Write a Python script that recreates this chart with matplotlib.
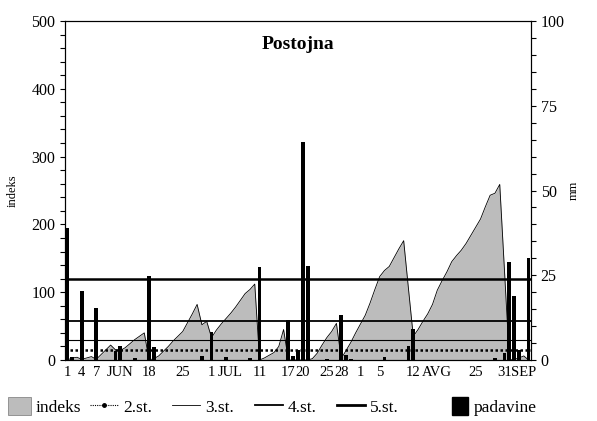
import numpy as np
import matplotlib.pyplot as plt
from matplotlib.lines import Line2D
from matplotlib.patches import Patch

plt.rcParams['font.family'] = ['Liberation Serif', 'DejaVu Serif']

# daily values, 1 Jun .. 5 Sep (97 days)
indeks = [0, 3, 4, 1, 3, 5, 1, 8, 15, 22,
          15, 14, 18, 24, 30, 35, 40, 0, 2, 6,
          13, 20, 28, 35, 42, 55, 68, 82, 52, 57,
          33, 44, 53, 61, 69, 78, 88, 98, 104, 112,
          0, 3, 7, 11, 20, 45, 0, 0, 0, 0,
          0, 2, 10, 22, 33, 42, 54, 2, 14, 26,
          40, 53, 66, 84, 104, 123, 132, 138, 151, 164,
          176, 105, 35, 45, 57, 68, 82, 103, 117, 130,
          145, 154, 162, 172, 184, 196, 208, 226, 243, 246,
          259, 130, 0, 1, 3, 6, 0]

padavine = [39, 0.8, 0, 20.5, 0, 0, 15.2, 0, 0, 0,
            2.8, 4.0, 0, 0, 0.5, 0, 0, 24.8, 3.8, 0,
            0, 0, 0, 0, 0, 0, 0, 0, 1.2, 0,
            8.2, 0, 0, 0.8, 0, 0, 0, 0, 0.6, 0,
            27.4, 0, 0, 0, 0, 0, 11.8, 1.2, 3.0, 64.4,
            27.8, 0, 0, 0, 0.4, 0, 0, 13.4, 1.6, 0.4,
            0, 0, 0, 0, 0, 0, 1.0, 0, 0, 0,
            0, 4.0, 9.2, 0, 0, 0, 0, 0, 0, 0,
            0, 0, 0, 0, 0, 0, 0, 0, 0, 0.5,
            0, 2.2, 29, 19, 3, 0, 30]

# alert stages (indeks)
stopnje = [15, 30, 58, 120]
stopnje_labels = ['2.st.', '3.st.', '4.st.', '5.st.']

tick_pos = [0, 3, 6, 11, 17, 24, 30, 34, 40, 46, 49, 54, 57, 61, 65, 72, 77, 85, 91, 95]
tick_lab = ['1', '4', '7', 'JUN', '18', '25', '1', 'JUL', '11', '17', '20',
            '25', '28', '1', '5', '12', 'AVG', '25', '31', 'SEP']

x = np.arange(len(indeks))

fig = plt.figure(figsize=(5.97, 4.21), dpi=100)
ax = fig.add_axes([0.1089, 0.1449, 0.7805, 0.8052])

ax.fill_between(x, indeks, color='#bcbcbc', lw=0, zorder=1)
ax.plot(x, indeks, color='k', lw=0.6, zorder=2)

styles = [dict(ls=(0, (1, 1)), lw=1.8), dict(ls='-', lw=0.8),
          dict(ls='-', lw=1.3), dict(ls='-', lw=1.8)]
for v, st in zip(stopnje, styles):
    ax.axhline(v, color='k', zorder=3, **st)

ax.set_xlim(-0.5, len(indeks) - 0.5)
ax.set_ylim(0, 500)
ax.set_yticks(np.arange(0, 501, 100))
ax.set_yticks(np.arange(0, 501, 20), minor=True)
ax.set_xticks(tick_pos)
ax.set_xticklabels(tick_lab)
ax.tick_params(axis='x', length=0, pad=4, labelsize=10.5)
ax.tick_params(axis='y', which='both', direction='out', length=3.5, width=0.8, labelsize=11.5)
ax.set_ylabel('indeks', fontsize=9, labelpad=9)

ax2 = ax.twinx()
ax2.bar(x, padavine, width=0.8, color='k', zorder=4)
ax2.set_ylim(0, 100)
ax2.set_yticks(np.arange(0, 101, 25))
ax2.set_yticks(np.arange(0, 101, 5), minor=True)
ax2.tick_params(axis='y', which='both', direction='out', length=3.5, width=0.8, labelsize=11.5)
ax2.set_ylabel('mm', fontsize=9, labelpad=2)

for a in (ax, ax2):
    for s in a.spines.values():
        s.set_linewidth(0.8)

ax.text(0.5, 0.93, 'Postojna', transform=ax.transAxes, ha='center', va='center',
        fontsize=14, fontweight='bold')

# legend entries laid out in fixed slots like the original
handles = [Patch(facecolor='#bcbcbc', edgecolor='#777777', lw=0.5),
           Line2D([], [], color='k', ls=(0, (1, 1)), lw=0.8, marker='o', ms=2.5),
           Line2D([], [], color='k', lw=0.6),
           Line2D([], [], color='k', lw=1.3),
           Line2D([], [], color='k', lw=2.0),
           Patch(facecolor='k', edgecolor='k')]
labels = ['indeks'] + stopnje_labels + ['padavine']
slots = [8, 90, 172, 255, 337, 452]
hlen = [1.3, 1.6, 1.6, 1.6, 1.6, 0.95]
for h, lab, sx, hl in zip(handles, labels, slots, hlen):
    fig.legend([h], [lab], loc='center left', bbox_to_anchor=(sx / 597, 0.034),
               frameon=False, fontsize=12.5, handlelength=hl, handleheight=1.2,
               handletextpad=0.3, borderpad=0, borderaxespad=0, numpoints=1)

fig.savefig('out.png', dpi=100)
